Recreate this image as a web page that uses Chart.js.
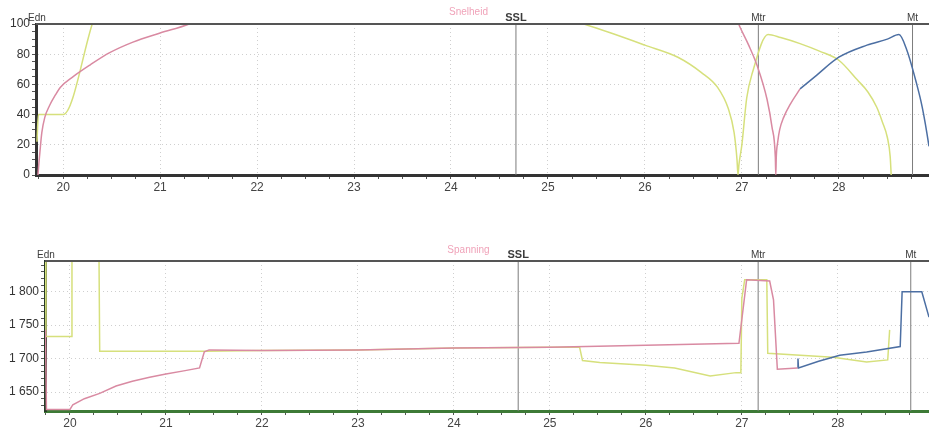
<!DOCTYPE html>
<html>
<head>
<meta charset="utf-8">
<script src="https://cdn.jsdelivr.net/npm/chart.js@4.4.0/dist/chart.umd.min.js"></script>
<style>
  html, body { margin: 0; padding: 0; background: #fff; overflow: hidden; }
  #wrap { position: relative; width: 929px; height: 430px; }
  .box { position: absolute; left: 0; width: 929px; }
  #top-box { top: 0; height: 200px; }
  #bot-box { top: 236px; height: 194px; }
</style>
</head>
<body>
<div id="wrap">
  <div class="box" id="top-box"><canvas id="chart-snelheid"></canvas></div>
  <div class="box" id="bot-box"><canvas id="chart-spanning"></canvas></div>
</div>
<script>
// afstand (km) - gedeeld door beide grafieken
const xTicks = [20, 21, 22, 23, 24, 25, 26, 27, 28];
const markerNames = ['SSL', 'Mtr', 'Mt'];
const markerPos = [24.67, 27.17, 28.76];

// Snelheid
const speedTicks = [0, 20, 40, 60, 80, 100];
const speedYellowX = [19.73, 19.745, 20.0, 20.3, 20.4, 25.0, 25.37, 25.65, 26.0, 26.34, 26.58, 26.75, 26.86, 26.92, 26.95, 26.96, 26.97, 27.0, 27.05, 27.11, 27.27, 27.4, 27.6, 27.8, 28.0, 28.19, 28.3, 28.39, 28.45, 28.5, 28.53, 28.54];
const speedYellowY = [22, 40, 40, 100, 120, 107, 100, 94, 86, 78, 68, 58, 44, 28, 10, 0, 7, 20, 51, 68, 93, 91, 87, 82, 76, 63, 55, 45, 35, 25, 12, 0];
const speedPinkX = [19.74, 19.75, 19.76, 19.78, 19.81, 19.86, 19.92, 19.97, 20.1, 20.28, 20.48, 20.72, 21.0, 21.3, 21.5, 26.9, 26.98, 27.07, 27.16, 27.26, 27.31, 27.345, 27.35, 27.355, 27.37, 27.39, 27.43, 27.5, 27.6];
const speedPinkY = [0, 8, 15, 28, 38, 46, 53, 58, 65, 73, 81, 88, 94, 100, 106, 110, 98, 86, 72, 50, 32, 12, 0, 12, 22, 30, 38, 47, 57];
const speedBlueX = [27.6, 27.77, 28.0, 28.29, 28.5, 28.62, 28.7, 28.8, 28.86, 28.93, 28.96];
const speedBlueY = [57, 66, 78, 86, 90, 93, 83, 61, 45, 19, 5];

// Spanning
const voltTicks = [1650, 1700, 1750, 1800];
const voltYellowX = [19.745, 19.75, 20.02, 20.021, 20.3, 20.31, 21.42, 22, 23, 24, 25.0, 25.31, 25.34, 25.52, 26.0, 26.3, 26.67, 26.94, 26.99, 27.0, 27.03, 27.26, 27.27, 27.95, 28.3, 28.52, 28.54];
const voltYellowY = [1900, 1733, 1733, 1900, 1900, 1711, 1711, 1712, 1713, 1716, 1717, 1717, 1697, 1694, 1690, 1686, 1674, 1679, 1679, 1790, 1818, 1818, 1708, 1702, 1695, 1698, 1743];
const voltPinkX = [19.745, 19.755, 20.0, 20.03, 20.15, 20.31, 20.48, 20.65, 20.83, 21.0, 21.2, 21.35, 21.4, 21.45, 22, 23, 24, 25, 26, 26.97, 27.05, 27.29, 27.33, 27.37, 27.58];
const voltPinkY = [1743, 1624, 1624, 1631, 1640, 1648, 1659, 1666, 1672, 1677, 1682, 1686, 1710, 1713, 1712, 1713, 1716, 1717, 1720, 1723, 1818, 1816, 1788, 1684, 1686];
const voltBlueX = [27.58, 27.585, 27.59, 27.8, 28.02, 28.3, 28.65, 28.67, 28.875, 28.95, 28.98];
const voltBlueY = [1686, 1700, 1686, 1696, 1705, 1710, 1718, 1800, 1800, 1762, 1740];

const PINK = '#d98aa2', YELLOW = '#d6e07c', BLUE = '#4c6fa3', MARK = '#7c7c7c';
Chart.defaults.font.family = "'Liberation Sans', Arial, sans-serif";

const pts = (xs, ys) => xs.map((x, i) => ({ x, y: ys[i] }));

function range(from, to, step) {
  const out = [];
  for (let v = from; v <= to + 1e-9; v += step) out.push(Math.round(v * 100) / 100);
  return out;
}

const overlay = {
  id: 'overlay',
  afterDatasetsDraw(chart, args, o) {
    const { ctx, chartArea, scales } = chart;
    ctx.save();
    ctx.strokeStyle = o.frame;
    ctx.lineWidth = 2;
    ctx.beginPath();
    ctx.moveTo(chartArea.left, chartArea.top);
    ctx.lineTo(chartArea.right, chartArea.top);
    ctx.stroke();

    ctx.textAlign = 'center';
    ctx.textBaseline = 'middle';
    ctx.fillStyle = '#f0a3b9';
    ctx.font = "10px 'Liberation Sans', Arial, sans-serif";
    ctx.fillText(o.title, chart.width / 2 + 4, o.titleY);

    ctx.textBaseline = 'alphabetic';
    ctx.fillStyle = '#3c3c3c';
    ctx.fillText('Edn', scales.x.getPixelForValue(scales.x.min) + 1, chartArea.top - 3);
    markerNames.forEach((name, i) => {
      ctx.font = (name === 'SSL' ? 'bold 11px' : '10px') + " 'Liberation Sans', Arial, sans-serif";
      ctx.fillText(name, scales.x.getPixelForValue(markerPos[i]), chartArea.top - 3);
    });
    ctx.restore();
  }
};

function makeChart(id, cfg) {
  // snelheid: vloeiende krommen, spanning: rechte stukken (trappen)
  const line = (data, color) => ({
    data, borderColor: color, borderWidth: 1.5, pointRadius: 0,
    cubicInterpolationMode: cfg.smooth ? 'monotone' : 'default', tension: 0
  });
  const markers = markerPos.map(v => ({
    data: [{ x: v, y: cfg.yMin }, { x: v, y: cfg.yMax }],
    borderColor: MARK, borderWidth: 1, pointRadius: 0
  }));
  const xMinor = range(19.75, 28.75, 0.25);
  const yMinor = range(cfg.minorFrom, cfg.yMax, cfg.minorStep);

  return new Chart(document.getElementById(id), {
    type: 'line',
    data: {
      datasets: [
        line(cfg.pink, PINK),
        line(cfg.blue, BLUE),
        line(cfg.yellow, YELLOW),
        ...markers
      ]
    },
    options: {
      responsive: true,
      maintainAspectRatio: false,
      animation: false,
      layout: { padding: { top: cfg.padTop, left: 0, right: 0, bottom: 0 } },
      plugins: {
        legend: { display: false },
        tooltip: { enabled: false },
        overlay: { title: cfg.title, titleY: cfg.titleY, frame: '#555' }
      },
      scales: {
        x: {
          type: 'linear',
          min: cfg.xMin,
          max: cfg.xMax,
          afterBuildTicks: s => { s.ticks = xMinor.map(v => ({ value: v })); },
          afterFit: s => { s.height = cfg.xHeight; },
          ticks: {
            autoSkip: false,
            maxRotation: 0,
            padding: 1,
            color: '#444',
            font: { size: 12 },
            callback: v => xTicks.includes(v) ? String(v) : ''
          },
          grid: {
            color: c => xTicks.includes(c.tick && c.tick.value) ? '#cfcfcf' : 'rgba(0,0,0,0)',
            tickColor: '#555',
            tickLength: 4
          },
          border: { color: cfg.xBorder, width: 3, dash: [1, 3] }
        },
        y: {
          min: cfg.yMin,
          max: cfg.yMax,
          afterBuildTicks: s => { s.ticks = yMinor.map(v => ({ value: v })); },
          afterFit: s => { s.width = cfg.yWidth; },
          ticks: {
            autoSkip: false,
            padding: 2,
            color: '#333',
            font: { size: 12 },
            callback: v => cfg.majors.includes(v) ? cfg.fmt(v) : ''
          },
          grid: {
            color: c => cfg.majors.includes(c.tick && c.tick.value) ? '#cfcfcf' : 'rgba(0,0,0,0)',
            tickColor: '#555',
            tickLength: 4
          },
          border: { color: cfg.yBorder, width: 3, dash: [1, 3] }
        }
      }
    },
    plugins: [overlay]
  });
}

makeChart('chart-snelheid', {
  title: 'Snelheid', titleY: 12, padTop: 24, smooth: true,
  xMin: 19.72, xMax: 28.93, xHeight: 25, yWidth: 36,
  yMin: 0, yMax: 100, majors: speedTicks, minorFrom: 0, minorStep: 5,
  fmt: v => String(v),
  xBorder: '#333', yBorder: '#333',
  pink: pts(speedPinkX, speedPinkY),
  blue: pts(speedBlueX, speedBlueY),
  yellow: pts(speedYellowX, speedYellowY)
});

makeChart('chart-spanning', {
  title: 'Spanning', titleY: 14, padTop: 25, smooth: false,
  xMin: 19.74, xMax: 28.95, xHeight: 19, yWidth: 45,
  yMin: 1621.6, yMax: 1846, majors: voltTicks, minorFrom: 1630, minorStep: 10,
  fmt: v => String(v).replace(/(\d)(\d{3})$/, '$1 $2'),
  xBorder: '#3d7a36', yBorder: '#263a26',
  pink: pts(voltPinkX, voltPinkY),
  blue: pts(voltBlueX, voltBlueY),
  yellow: pts(voltYellowX, voltYellowY)
});
</script>
</body>
</html>
